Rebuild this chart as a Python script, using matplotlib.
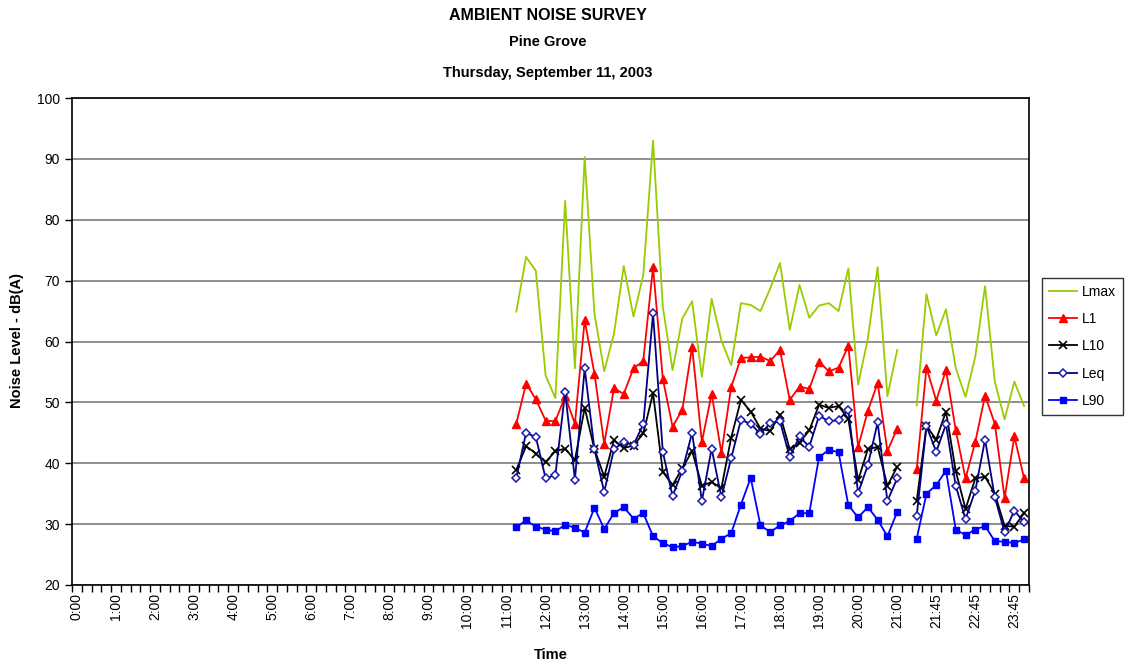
import matplotlib
matplotlib.use("Agg")
import matplotlib.pyplot as plt
import numpy as np

plt.rcParams['font.family'] = ['Liberation Sans', 'DejaVu Sans']

# ---- Category axis: 15-minute slots over the day, with one blank slot after 21:00 ----
day_slots = [f"{h}:{m:02d}" for h in range(24) for m in (0, 15, 30, 45)]
categories = day_slots[:85] + [""] + day_slots[85:] + ["0:00"]   # 98 categories

tick_labels = ["0:00", "1:00", "2:00", "3:00", "4:00", "5:00", "6:00", "7:00",
               "8:00", "9:00", "10:00", "11:00", "12:00", "13:00", "14:00",
               "15:00", "16:00", "17:00", "18:00", "19:00", "20:00", "21:00",
               "21:45", "22:45", "23:45"]

# Measured slots: 11:15 .. 21:00, blank, 21:15 .. 0:00 (category index 45..97)
first_index = 45

lmax = [64.9, 73.9, 71.6, 54.4, 50.7, 83.1, 55.6, 90.3, 64.6, 55.1,
        61.3, 72.4, 64.1, 70.9, 93.0, 65.7, 55.3, 63.8, 66.6, 54.2,
        67.0, 60.2, 56.1, 66.3, 66.0, 65.0, 68.7, 72.9, 61.9, 69.3,
        63.9, 65.9, 66.3, 65.0, 72.0, 52.9, 60.5, 72.2, 51.0, 58.6,
        None,
        49.5, 67.8, 61.0, 65.3, 55.6, 50.9, 57.5, 69.1, 53.4, 47.2, 53.4, 49.4]

l1 = [46.5, 53.1, 50.5, 47.0, 46.9, 51.0, 46.5, 63.5, 54.7, 43.2,
      52.3, 51.4, 55.6, 56.8, 72.2, 53.9, 46.0, 48.8, 59.1, 43.5,
      51.4, 41.7, 52.5, 57.3, 57.4, 57.5, 56.8, 58.6, 50.4, 52.6,
      52.2, 56.7, 55.1, 55.7, 59.3, 42.7, 48.6, 53.2, 42.0, 45.7,
      None,
      39.0, 55.7, 50.3, 55.3, 45.4, 37.5, 43.5, 51.1, 46.5, 34.3, 44.4, 37.5]

l10 = [38.9, 42.8, 41.6, 40.2, 42.0, 42.4, 40.5, 49.1, 42.3, 37.8,
       43.8, 42.5, 42.9, 44.9, 51.5, 38.6, 36.4, 39.2, 42.0, 36.3,
       36.9, 35.9, 44.2, 50.4, 48.5, 45.7, 45.3, 48.0, 42.3, 43.4,
       45.4, 49.6, 49.1, 49.4, 47.3, 37.2, 42.3, 42.7, 36.3, 39.4,
       None,
       33.8, 46.1, 43.9, 48.5, 38.7, 32.5, 37.5, 37.8, 35.0, 29.7, 29.6, 31.8]

leq = [37.6, 45.0, 44.3, 37.5, 38.1, 51.7, 37.3, 55.6, 42.3, 35.3,
       42.3, 43.5, 43.0, 46.4, 64.6, 41.9, 34.6, 38.8, 45.0, 33.8,
       42.4, 34.4, 40.8, 47.1, 46.5, 44.8, 46.6, 46.9, 41.0, 44.4,
       42.7, 47.8, 46.9, 47.1, 48.8, 35.1, 39.7, 46.7, 33.8, 37.5,
       None,
       31.4, 46.1, 41.9, 46.4, 36.3, 30.8, 35.5, 43.9, 34.4, 28.7, 32.2, 30.3]

l90 = [29.5, 30.6, 29.6, 29.1, 28.8, 29.9, 29.4, 28.6, 32.7, 29.2,
       31.8, 32.8, 30.9, 31.8, 28.0, 26.9, 26.2, 26.4, 27.1, 26.8,
       26.4, 27.6, 28.5, 33.2, 37.6, 29.8, 28.7, 29.8, 30.5, 31.8,
       31.8, 41.0, 42.2, 41.8, 33.1, 31.1, 32.8, 30.7, 28.0, 32.0,
       None,
       27.6, 35.0, 36.4, 38.8, 29.1, 28.2, 29.1, 29.7, 27.2, 27.1, 26.9, 27.5]

series_names = ["Lmax", "L1", "L10", "Leq", "L90"]

# ---- Figure ----
W, H = 1125, 666
fig = plt.figure(figsize=(W / 100, H / 100), dpi=100)
ax = fig.add_axes([72 / W, 1 - 585 / H, (1029 - 72) / W, (585 - 98) / H])

x = np.arange(first_index, first_index + len(lmax))

def arr(v):
    return np.array([np.nan if a is None else a for a in v], dtype=float)

styles = [
    dict(color="#99CC00", lw=1.3, marker=None),
    dict(color="#FF0000", lw=1.3, marker="^", ms=5.5, mfc="#FF0000", mec="#FF0000"),
    dict(color="#000000", lw=1.3, marker="x", ms=5.5, mew=1.2),
    dict(color="#000080", lw=1.3, marker="D", ms=4.2, mfc="white", mec="#1A1AB0", mew=1.1),
    dict(color="#0000FF", lw=1.3, marker="s", ms=4.5, mfc="#0000FF", mec="#0000FF"),
]

handles = []
for name, vals, st in zip(series_names, [lmax, l1, l10, leq, l90], styles):
    h, = ax.plot(x, arr(vals), label=name, **st)
    handles.append(h)

ax.set_xlim(-0.5, len(categories) - 0.5)
ax.set_ylim(20, 100)
ax.set_yticks(np.arange(20, 101, 10))
ax.tick_params(axis="y", labelsize=10, length=5, width=1, direction="out")
ax.yaxis.grid(True, color="#707070", lw=1.1)
ax.set_axisbelow(True)

# x ticks: labels centered on categories, tick marks at category boundaries
tick_pos = [categories.index(t) for t in tick_labels]
ax.set_xticks(tick_pos)
ax.set_xticklabels(tick_labels, rotation=90, fontsize=10)
ax.tick_params(axis="x", which="major", length=0, pad=6)
ax.set_xticks(np.arange(-0.5, len(categories), 1.0), minor=True)
ax.tick_params(axis="x", which="minor", length=5, width=1, direction="out")

for s in ax.spines.values():
    s.set_color("black")
    s.set_linewidth(1.2)

# titles
fig.text(548 / W, 1 - 16 / H, "AMBIENT NOISE SURVEY", ha="center", va="center",
         fontsize=11.5, fontweight="bold")
fig.text(548 / W, 1 - 42 / H, "Pine Grove", ha="center", va="center",
         fontsize=10.5, fontweight="bold")
fig.text(548 / W, 1 - 73 / H, "Thursday, September 11, 2003", ha="center", va="center",
         fontsize=10.5, fontweight="bold")
fig.text(17 / W, 1 - 341 / H, "Noise Level - dB(A)", ha="center", va="center",
         rotation=90, fontsize=10.5, fontweight="bold")
fig.text(551 / W, 1 - 655 / H, "Time", ha="center", va="center",
         fontsize=10.5, fontweight="bold")

leg = fig.legend(handles=handles, loc="upper left",
                 bbox_to_anchor=(1042 / W, 1 - 278 / H),
                 fontsize=10, frameon=True, fancybox=False, edgecolor="black",
                 handlelength=2.0, labelspacing=0.95, borderpad=0.5,
                 handletextpad=0.4, borderaxespad=0)
leg.get_frame().set_linewidth(1.0)

fig.savefig("out.png", dpi=100)
